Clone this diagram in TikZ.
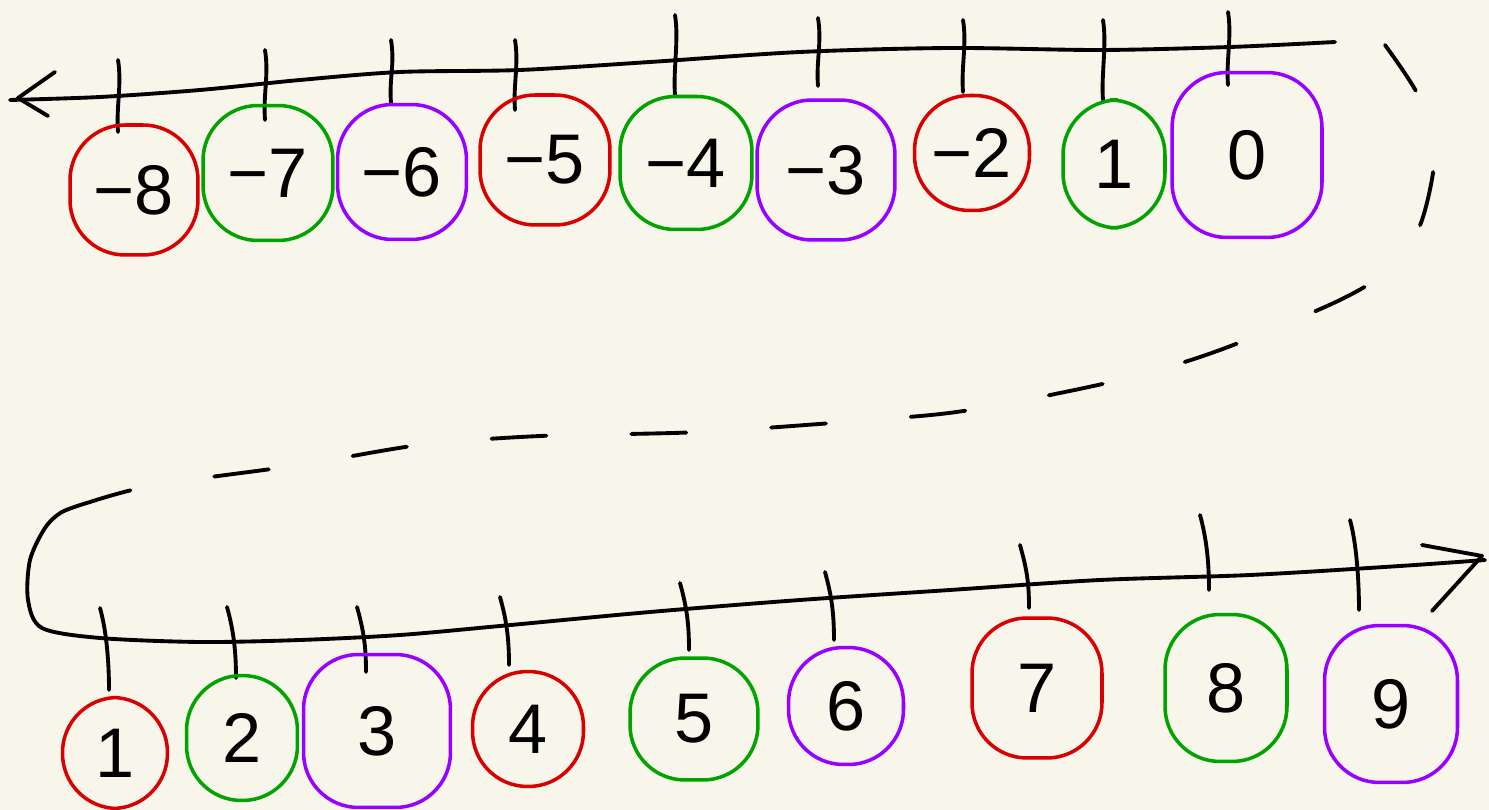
\documentclass[tikz,border=0pt]{standalone}
\usepackage{fontspec}
\setmainfont{Liberation Sans}
\usetikzlibrary{shapes.geometric}
\definecolor{bg}{HTML}{F8F6EA}
\definecolor{rd}{HTML}{D80000}
\definecolor{gn}{HTML}{00A300}
\definecolor{pp}{HTML}{9A00FF}
\tikzset{
  ink/.style={line width=2.2pt, line cap=round, line join=round, black},
  blob/.style={draw=#1, line width=2pt, rounded corners=1.1cm, font=\fontsize{40}{44}\selectfont, inner sep=0pt},
  dsh/.style={ink, dash pattern=on 1.1cm off 1.7cm}
}
\begin{document}
\begin{tikzpicture}[x=0.02cm,y=-0.02cm]
\fill[bg] (0,0) rectangle (1489,810);
\useasboundingbox (0,0) rectangle (1489,810);
% top line
\draw[ink] plot[smooth] coordinates {(10,100) (100,97) (200,90) (300,80) (400,72) (520,70) (650,62) (800,52) (950,48) (1100,50) (1230,47) (1335,42)};
\draw[ink] (55,72) -- (18,98) -- (48,116);
% top ticks
\foreach \x/\a/\b in {118/60/132, 265/50/120, 391/40/103, 515/40/110, 675/15/95, 818/18/86, 963/20/92, 1103/20/100, 1228/12/85}
  \draw[ink] (\x,\a) .. controls (\x+4,\a+25) and (\x-2,\b-25) .. (\x,\b);
% top circles
\node[blob=rd, minimum width=2.56cm, minimum height=2.6cm] (nm8) at (134,190) {−8};
\node[blob=gn, minimum width=2.6cm, minimum height=2.7cm] (nm7) at (268,173) {−7};
\node[blob=pp, minimum width=2.58cm, minimum height=2.7cm] (nm6) at (402,172) {−6};
\node[blob=rd, minimum width=2.6cm, minimum height=2.6cm] (nm5) at (545,160) {−5};
\node[blob=gn, minimum width=2.64cm, minimum height=2.66cm] (nm4) at (686,163) {−4};
\node[blob=pp, minimum width=2.76cm, minimum height=2.8cm] (nm3) at (826,170) {−3};
\node[blob=rd, minimum width=2.3cm, minimum height=2.3cm] (nm2) at (972,153) {−2};
\node[blob=gn, minimum width=2.04cm, minimum height=2.56cm] (np1t) at (1114,164) {1};
\node[blob=pp, minimum width=3.0cm, minimum height=3.3cm] (n0) at (1247,155) {0};
% dashed connector
\draw[dsh] plot[smooth] coordinates {(1385,45) (1418,95) (1435,150) (1422,220) (1395,265) (1340,300) (1220,350) (1120,380) (970,410) (870,420) (700,432) (540,436) (420,445) (300,465) (155,485) (90,502)};
% bottom line
\draw[ink] plot[smooth] coordinates {(90,502) (62,512) (45,528) (30,560) (28,600) (42,628) (100,638) (200,642) (300,640) (400,635) (500,626) (650,612) (800,600) (950,590) (1100,580) (1250,575) (1400,566) (1485,560)};
\draw[ink] (1422,545) -- (1482,556) -- (1432,611);
% bottom ticks
\foreach \x/\a/\b in {105/608/690, 232/607/678, 362/607/672, 505/597/665, 685/583/650, 830/572/640, 1025/545/608, 1205/515/590, 1355/520/610}
  \draw[ink] (\x-5,\a) .. controls (\x+2,\a+25) and (\x+4,\b-25) .. (\x+4,\b);
% bottom circles
\node[blob=rd, minimum width=2.1cm, minimum height=2.22cm] (n1) at (115,753) {1};
\node[blob=gn, minimum width=2.22cm, minimum height=2.5cm] (n2) at (242,738) {2};
\node[blob=pp, minimum width=2.94cm, minimum height=3.06cm] (n3) at (377,731) {3};
\node[blob=rd, minimum width=2.22cm, minimum height=2.3cm] (n4) at (528,729) {4};
\node[blob=gn, minimum width=2.56cm, minimum height=2.44cm] (n5) at (694,719) {5};
\node[blob=pp, minimum width=2.3cm, minimum height=2.34cm] (n6) at (846,706) {6};
\node[blob=rd, minimum width=2.6cm, minimum height=2.8cm] (n7) at (1037,688) {7};
\node[blob=gn, minimum width=2.44cm, minimum height=2.94cm] (n8) at (1226,688) {8};
\node[blob=pp, minimum width=2.66cm, minimum height=3.14cm] (n9) at (1391,704) {9};
\end{tikzpicture}
\end{document}
